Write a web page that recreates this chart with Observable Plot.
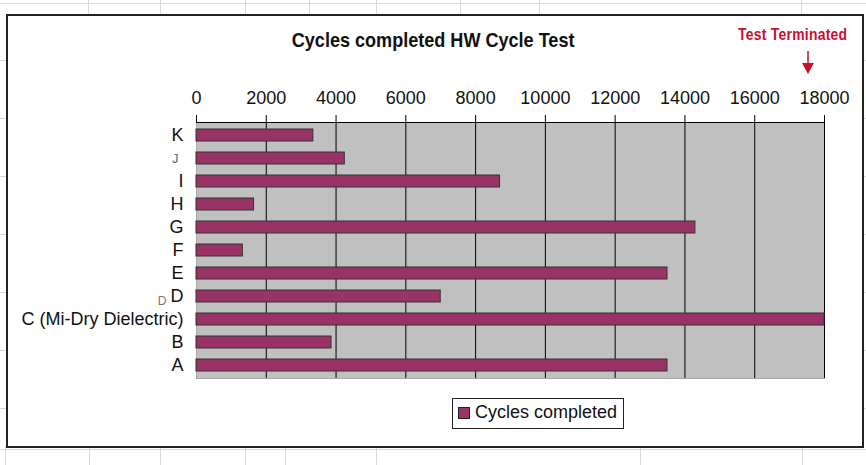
<!DOCTYPE html>
<html>
<head>
<meta charset="utf-8">
<script src="https://cdn.jsdelivr.net/npm/d3@7"></script>
<script src="https://cdn.jsdelivr.net/npm/@observablehq/plot@0.6"></script>
<style>
  html, body { margin:0; padding:0; background:#fff; }
  #wrap { position:relative; width:866px; height:465px; overflow:hidden; font-family:"Liberation Sans", Arial, sans-serif; }
  .gl { position:absolute; background:#d9d9d9; }
  #frame { position:absolute; left:6px; top:14px; width:854px; height:430px; border:2px solid #222; background:#fff; box-sizing:content-box; }
  #title { position:absolute; left:0; width:866px; top:28px; text-align:center; font-weight:bold; font-size:21px; transform:scaleX(0.86); transform-origin:434px 0; color:#111; white-space:nowrap; }
  #term { position:absolute; left:738px; top:25px; font-weight:bold; font-size:17px; color:#c8102e; white-space:nowrap; transform:scaleX(0.82); transform-origin:0 0; letter-spacing:0.3px; }
  #legend { position:absolute; left:452px; top:398px; width:170px; height:29px; border:1px solid #222; background:#fff; }
  #legend .sw { position:absolute; left:5px; top:8px; width:10px; height:10px; background:#993366; border:1px solid #222; }
  #legend .lb { position:absolute; left:22px; top:3px; font-size:18px; color:#111; white-space:nowrap; }
  #chart { position:absolute; left:0; top:0; }
  #arrow { position:absolute; left:0; top:0; }
</style>
</head>
<body>
<div id="wrap">
  <div id="grid"></div>
  <div id="frame"></div>
  <div id="chart"></div>
  <div id="title">Cycles completed HW Cycle Test</div>
  <div id="term">Test Terminated</div>
  <svg id="arrow" width="866" height="465">
    <line x1="808" y1="51" x2="808" y2="64" stroke="#c8102e" stroke-width="1.5"/>
    <polygon points="802,63 814,63 808,74" fill="#c8102e"/>
  </svg>
  <div id="legend"><div class="sw"></div><div class="lb">Cycles completed</div></div>
</div>
<script>
// ---- data ----
const categories = ["K", "J", "I", "H", "G", "F", "E", "D", "C (Mi-Dry Dielectric)", "B", "A"];
const cycles     = [3350, 4250, 8700, 1650, 14300, 1330, 13500, 7000, 18000, 3870, 13500];
const xTicks     = [0, 2000, 4000, 6000, 8000, 10000, 12000, 14000, 16000, 18000];
const seriesName = "Cycles completed";

const data = categories.map((c, i) => ({cat: c, value: cycles[i]}));

// spreadsheet gridlines behind the chart
const grid = document.getElementById("grid");
function gl(x, y, w, h) {
  const d = document.createElement("div");
  d.className = "gl";
  d.style.left = x + "px"; d.style.top = y + "px"; d.style.width = w + "px"; d.style.height = h + "px";
  grid.appendChild(d);
}
[88, 160, 245, 309, 376, 460, 539, 801].forEach(x => gl(x, 0, 1, 16));
[5, 89, 160, 245, 285, 376, 640, 802].forEach(x => gl(x, 446, 1, 19));
gl(0, 3, 866, 1);
gl(0, 449, 866, 1);
[60, 118, 176, 234, 292, 350, 408].forEach(y => { gl(0, y, 6, 1); gl(862, y, 4, 1); });

const chart = Plot.plot({
  width: 866,
  height: 465,
  marginLeft: 196,
  marginRight: 42,
  marginTop: 122,
  marginBottom: 87,
  style: {background: "transparent", fontFamily: "'Liberation Sans', Arial, sans-serif", fontSize: "18px", color: "black"},
  x: {domain: [0, 18000], axis: null},
  y: {domain: categories, paddingInner: 0.5, paddingOuter: 0.25, axis: null},
  marks: [
    Plot.frame({fill: "#c0c0c0", stroke: "#a8a8a8"}),
    Plot.ruleX(xTicks.filter(t => t > 0), {stroke: "black", strokeWidth: 1}),
    Plot.barX(data, {x: "value", y: "cat", fill: "#993366", stroke: "#333", strokeWidth: 1}),
    Plot.frame({anchor: "top", stroke: "black"}),
    Plot.axisX({anchor: "top", ticks: xTicks, tickSize: 8, tickPadding: 11, fontSize: 18, label: null, tickFormat: d => String(d), fill: "#111"}),
    Plot.text(categories.filter(c => c !== "J"), {y: d => d, frameAnchor: "left", dx: -13, textAnchor: "end", fontSize: 18, fill: "#111"}),
    Plot.text(["J"], {y: d => d, frameAnchor: "left", dx: -18, textAnchor: "end", fontSize: 13, fill: "#666"}),
    Plot.text(["C (Mi-Dry Dielectric)"], {y: d => d, text: () => "D", frameAnchor: "left", dx: -30, dy: -18, textAnchor: "end", fontSize: 12, fill: "#777"})
  ]
});
document.getElementById("chart").appendChild(chart);
</script>
</body>
</html>
